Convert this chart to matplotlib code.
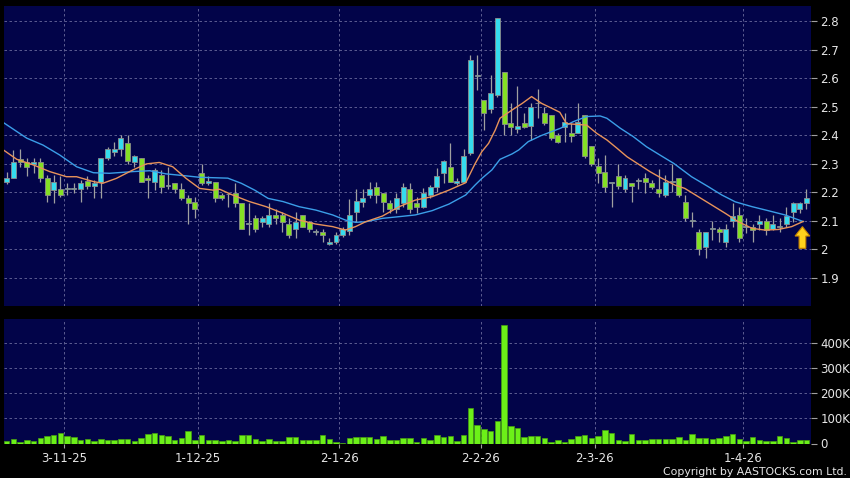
import numpy as np
import matplotlib
matplotlib.use('Agg')
import matplotlib.pyplot as plt
from matplotlib.patches import FancyArrow

# swiece dzienne
open_ = [2.236, 2.248, 2.316, 2.307, 2.300, 2.307, 2.248, 2.207, 2.210, 2.210,
         2.210, 2.210, 2.240, 2.221, 2.237, 2.318, 2.340, 2.350, 2.371, 2.307,
         2.318, 2.250, 2.237, 2.260, 2.221, 2.231, 2.210, 2.178, 2.167, 2.268,
         2.231, 2.237, 2.190, 2.192, 2.198, 2.161, 2.088, 2.108, 2.096, 2.088,
         2.120, 2.120, 2.088, 2.070, 2.120, 2.096, 2.059, 2.059, 2.017, 2.026,
         2.050, 2.065, 2.129, 2.167, 2.190, 2.219, 2.198, 2.161, 2.140, 2.161,
         2.210, 2.161, 2.149, 2.190, 2.219, 2.268, 2.289, 2.231, 2.237, 2.338,
         2.608, 2.523, 2.490, 2.541, 2.620, 2.444, 2.420, 2.441, 2.432, 2.511,
         2.479, 2.470, 2.400, 2.430, 2.408, 2.408, 2.470, 2.363, 2.293, 2.272,
         2.233, 2.258, 2.210, 2.233, 2.240, 2.248, 2.233, 2.210, 2.190, 2.237,
         2.248, 2.167, 2.099, 2.059, 2.009, 2.070, 2.070, 2.026, 2.099, 2.120,
         2.079, 2.079, 2.088, 2.099, 2.070, 2.079, 2.088, 2.129, 2.140, 2.161]
high = [2.272, 2.348, 2.350, 2.318, 2.318, 2.318, 2.260, 2.260, 2.258, 2.233,
        2.233, 2.242, 2.258, 2.242, 2.318, 2.359, 2.377, 2.400, 2.400, 2.330,
        2.318, 2.260, 2.283, 2.278, 2.289, 2.233, 2.233, 2.190, 2.184, 2.300,
        2.258, 2.237, 2.198, 2.198, 2.233, 2.161, 2.161, 2.120, 2.116, 2.161,
        2.140, 2.129, 2.108, 2.129, 2.120, 2.099, 2.070, 2.070, 2.038, 2.059,
        2.079, 2.176, 2.210, 2.210, 2.237, 2.237, 2.198, 2.172, 2.198, 2.231,
        2.231, 2.184, 2.213, 2.225, 2.283, 2.313, 2.371, 2.248, 2.350, 2.681,
        2.681, 2.523, 2.611, 2.809, 2.620, 2.511, 2.572, 2.476, 2.511, 2.560,
        2.500, 2.470, 2.406, 2.476, 2.441, 2.514, 2.470, 2.363, 2.318, 2.330,
        2.233, 2.300, 2.260, 2.233, 2.250, 2.266, 2.242, 2.280, 2.260, 2.300,
        2.248, 2.190, 2.129, 2.070, 2.059, 2.099, 2.079, 2.088, 2.161, 2.149,
        2.108, 2.088, 2.120, 2.108, 2.120, 2.108, 2.149, 2.167, 2.167, 2.210]
low = [2.229, 2.248, 2.289, 2.258, 2.266, 2.237, 2.167, 2.161, 2.184, 2.190,
       2.198, 2.167, 2.210, 2.178, 2.178, 2.313, 2.328, 2.328, 2.300, 2.289,
       2.237, 2.178, 2.207, 2.198, 2.210, 2.198, 2.172, 2.088, 2.108, 2.225,
       2.225, 2.167, 2.172, 2.149, 2.149, 2.070, 2.050, 2.059, 2.079, 2.079,
       2.088, 2.059, 2.038, 2.038, 2.079, 2.059, 2.050, 2.026, 2.015, 2.017,
       2.044, 2.050, 2.096, 2.149, 2.178, 2.161, 2.129, 2.126, 2.126, 2.149,
       2.126, 2.126, 2.143, 2.178, 2.202, 2.231, 2.237, 2.225, 2.237, 2.330,
       2.558, 2.418, 2.479, 2.535, 2.400, 2.400, 2.408, 2.424, 2.383, 2.459,
       2.435, 2.383, 2.371, 2.377, 2.377, 2.408, 2.318, 2.293, 2.231, 2.200,
       2.149, 2.210, 2.200, 2.167, 2.210, 2.198, 2.210, 2.184, 2.184, 2.200,
       2.184, 2.099, 2.079, 1.980, 1.968, 2.032, 2.026, 2.009, 2.079, 2.026,
       2.055, 2.026, 2.067, 2.050, 2.067, 2.059, 2.079, 2.096, 2.126, 2.140]
close_ = [2.248, 2.307, 2.304, 2.289, 2.307, 2.248, 2.190, 2.237, 2.190, 2.210,
          2.210, 2.231, 2.221, 2.233, 2.318, 2.350, 2.350, 2.389, 2.309, 2.328,
          2.237, 2.242, 2.278, 2.219, 2.221, 2.210, 2.178, 2.161, 2.140, 2.233,
          2.240, 2.178, 2.178, 2.192, 2.161, 2.070, 2.088, 2.070, 2.108, 2.120,
          2.108, 2.096, 2.050, 2.096, 2.079, 2.070, 2.059, 2.050, 2.026, 2.050,
          2.070, 2.120, 2.169, 2.178, 2.210, 2.190, 2.167, 2.140, 2.178, 2.219,
          2.140, 2.149, 2.198, 2.219, 2.258, 2.309, 2.237, 2.240, 2.328, 2.663,
          2.608, 2.479, 2.549, 2.809, 2.439, 2.430, 2.432, 2.430, 2.500, 2.511,
          2.441, 2.389, 2.377, 2.447, 2.397, 2.447, 2.328, 2.300, 2.268, 2.219,
          2.233, 2.222, 2.250, 2.221, 2.240, 2.237, 2.219, 2.198, 2.237, 2.237,
          2.190, 2.108, 2.099, 2.000, 2.059, 2.070, 2.059, 2.070, 2.116, 2.038,
          2.079, 2.067, 2.099, 2.067, 2.088, 2.079, 2.116, 2.161, 2.161, 2.178]
# wolumen w tysiacach
volume_k = [8, 17, 5, 12, 11, 22, 28, 34, 41, 30,
            25, 12, 18, 11, 18, 13, 13, 17, 18, 8,
            22, 38, 42, 33, 30, 15, 22, 50, 13, 32,
            12, 13, 11, 13, 11, 34, 34, 17, 11, 18,
            11, 11, 25, 26, 13, 13, 13, 34, 16, 5,
            3, 21, 26, 24, 26, 18, 29, 13, 13, 20,
            22, 5, 20, 12, 33, 26, 28, 9, 33, 140,
            73, 57, 48, 90, 470, 70, 62, 26, 30, 29,
            22, 5, 13, 5, 16, 30, 33, 22, 30, 54,
            41, 15, 8, 37, 12, 12, 18, 18, 17, 18,
            25, 12, 37, 22, 21, 16, 22, 29, 38, 16,
            11, 25, 12, 9, 9, 30, 20, 7, 15, 15]

# srednie kroczace (pozycja swiecy, wartosc)
ma10_x = [-0.5, 1.5, 4.0, 6.4, 8.9, 10.4, 12.9, 14.3, 16.3, 18.8, 20.8, 22.7, 24.7,
          26.7, 28.7, 30.7, 31.7, 33.6, 36.1, 38.6, 41.1, 43.5, 46.0, 48.5, 50.4,
          51.9, 53.4, 55.9, 58.4, 60.8, 63.3, 65.8, 68.3, 69.7, 70.7, 71.7, 72.7,
          73.4, 75.2, 76.7, 78.1, 79.6, 81.1, 82.3, 83.3, 86.3, 87.8, 89.3, 90.8,
          92.3, 94.2, 95.7, 97.2, 99.4, 100.9, 102.9, 104.9, 106.9, 108.8, 110.9,
          112.8, 114.8, 116.8, 118.5]
ma10_y = [2.348, 2.315, 2.295, 2.272, 2.254, 2.254, 2.237, 2.231, 2.248, 2.278, 2.299,
          2.304, 2.289, 2.248, 2.213, 2.207, 2.210, 2.190, 2.167, 2.149, 2.126, 2.102,
          2.088, 2.079, 2.067, 2.079, 2.096, 2.116, 2.149, 2.172, 2.184, 2.207, 2.233,
          2.300, 2.342, 2.371, 2.418, 2.459, 2.488, 2.511, 2.535, 2.511, 2.494, 2.480,
          2.440, 2.435, 2.406, 2.383, 2.354, 2.324, 2.295, 2.272, 2.252, 2.225, 2.213,
          2.184, 2.155, 2.126, 2.097, 2.073, 2.067, 2.069, 2.079, 2.097]
ma20_x = [-0.5, 3.0, 5.4, 7.9, 10.4, 12.9, 15.3, 18.8, 21.3, 23.7, 26.7, 28.7, 32.9,
          34.9, 36.9, 38.9, 41.1, 43.5, 46.0, 48.5, 50.4, 51.9, 53.4, 55.9, 58.4,
          60.8, 63.3, 65.8, 68.3, 69.7, 70.7, 72.2, 73.4, 75.2, 76.2, 77.6, 79.5,
          82.4, 84.3, 86.3, 88.3, 89.3, 91.3, 93.2, 95.2, 97.2, 99.3, 101.9, 104.4,
          106.4, 108.4, 110.9, 113.3, 115.8, 118.5]
ma20_y = [2.444, 2.389, 2.365, 2.330, 2.289, 2.268, 2.266, 2.272, 2.275, 2.264, 2.257,
          2.252, 2.249, 2.231, 2.207, 2.178, 2.167, 2.149, 2.137, 2.120, 2.102, 2.094,
          2.096, 2.108, 2.114, 2.120, 2.135, 2.158, 2.190, 2.225, 2.248, 2.278, 2.315,
          2.334, 2.348, 2.377, 2.398, 2.424, 2.447, 2.465, 2.467, 2.459, 2.424, 2.395,
          2.359, 2.330, 2.300, 2.254, 2.219, 2.190, 2.166, 2.149, 2.135, 2.120, 2.097]

date_labels = ['3-11-25', '1-12-25', '2-1-26', '2-2-26', '2-3-26', '1-4-26']
date_idx = [8, 28, 49, 70, 87, 109]
price_ticks = [1.9, 2.0, 2.1, 2.2, 2.3, 2.4, 2.5, 2.6, 2.7, 2.8]
price_labels = ['1.9', '2', '2.1', '2.2', '2.3', '2.4', '2.5', '2.6', '2.7', '2.8']
vol_ticks = [0, 100000, 200000, 300000, 400000]
vol_labels = ['0', '100K', '200K', '300K', '400K']

# kolory
TLO = '#020449'
CYJAN = '#35dcee'
ZIELONY = '#84e024'
KRAWEDZ = '#8c8c8c'
KNOT = '#a0a0a0'
SIATKA = '#6a6a9c'
NAPIS = '#e6e6e6'

o = np.array(open_)
c = np.array(close_)
h = np.array(high)
l = np.array(low)
v = np.array(volume_k) * 1000
n = len(c)
idx = np.arange(n)

fig = plt.figure(figsize=(8.5, 4.78), dpi=100, facecolor='black')
ax = fig.add_axes([4 / 850, 1 - 306 / 478, 806.5 / 850, 300 / 478], facecolor=TLO)
ax2 = fig.add_axes([4 / 850, 1 - 443.5 / 478, 806.5 / 850, 124.5 / 478], facecolor=TLO)

grid_x = np.array(date_idx) + 0.5

for a in (ax, ax2):
    for s in a.spines.values():
        s.set_visible(False)
    a.set_xlim(-0.4, n - 0.4)
    a.set_xticks(grid_x)
    a.yaxis.tick_right()
    a.tick_params(axis='y', colors=KNOT, labelcolor=NAPIS, length=4, width=0.8,
                  labelsize=8.5, pad=3)
    a.grid(True, color=SIATKA, linestyle=(0, (3, 3)), linewidth=0.6)
    a.set_axisbelow(True)

# swiece
wzrost = c >= o
kolory = np.where(wzrost, CYJAN, ZIELONY)
ax.vlines(idx, l, h, color=KNOT, linewidth=0.9, zorder=2)
ax.bar(idx, np.maximum(np.abs(c - o), 0.003), bottom=np.minimum(o, c), width=0.74,
       color=kolory, edgecolor=KRAWEDZ, linewidth=0.6, zorder=3)

ax.plot(ma20_x, ma20_y, color='#3b9ee8', linewidth=1.0, zorder=4)
ax.plot(ma10_x, ma10_y, color='#e8935a', linewidth=1.0, zorder=4)

# strzalka sygnalu
ax.add_patch(FancyArrow(n - 1.6, 2.003, 0, 0.076, width=1.0, head_width=2.2,
                        head_length=0.033, length_includes_head=True,
                        fc='#ffd21c', ec='#c88400', linewidth=0.8, zorder=6))

ax.set_ylim(1.8007, 2.8526)
ax.set_yticks(price_ticks)
ax.set_yticklabels(price_labels)
ax.tick_params(axis='x', length=0, labelbottom=False)

# wolumen
ax2.bar(idx, v, width=0.82, color='#6cf018', edgecolor='#48a010', linewidth=0.5, zorder=3)
ax2.set_ylim(0, 495000)
ax2.set_yticks(vol_ticks)
ax2.set_yticklabels(vol_labels)
ax2.yaxis.grid(True)
ax2.set_xticklabels(date_labels)
ax2.tick_params(axis='x', colors=KNOT, labelcolor=NAPIS, length=3, width=0.8,
                labelsize=8.5, pad=3)
for t in ax2.get_yticklabels():
    t.set_clip_on(False)

fig.text(0.996, 0.0135, 'Copyright by AASTOCKS.com Ltd.', ha='right', va='center',
         color=NAPIS, fontsize=7.8)

fig.savefig('out.png', dpi=100, facecolor='black')
